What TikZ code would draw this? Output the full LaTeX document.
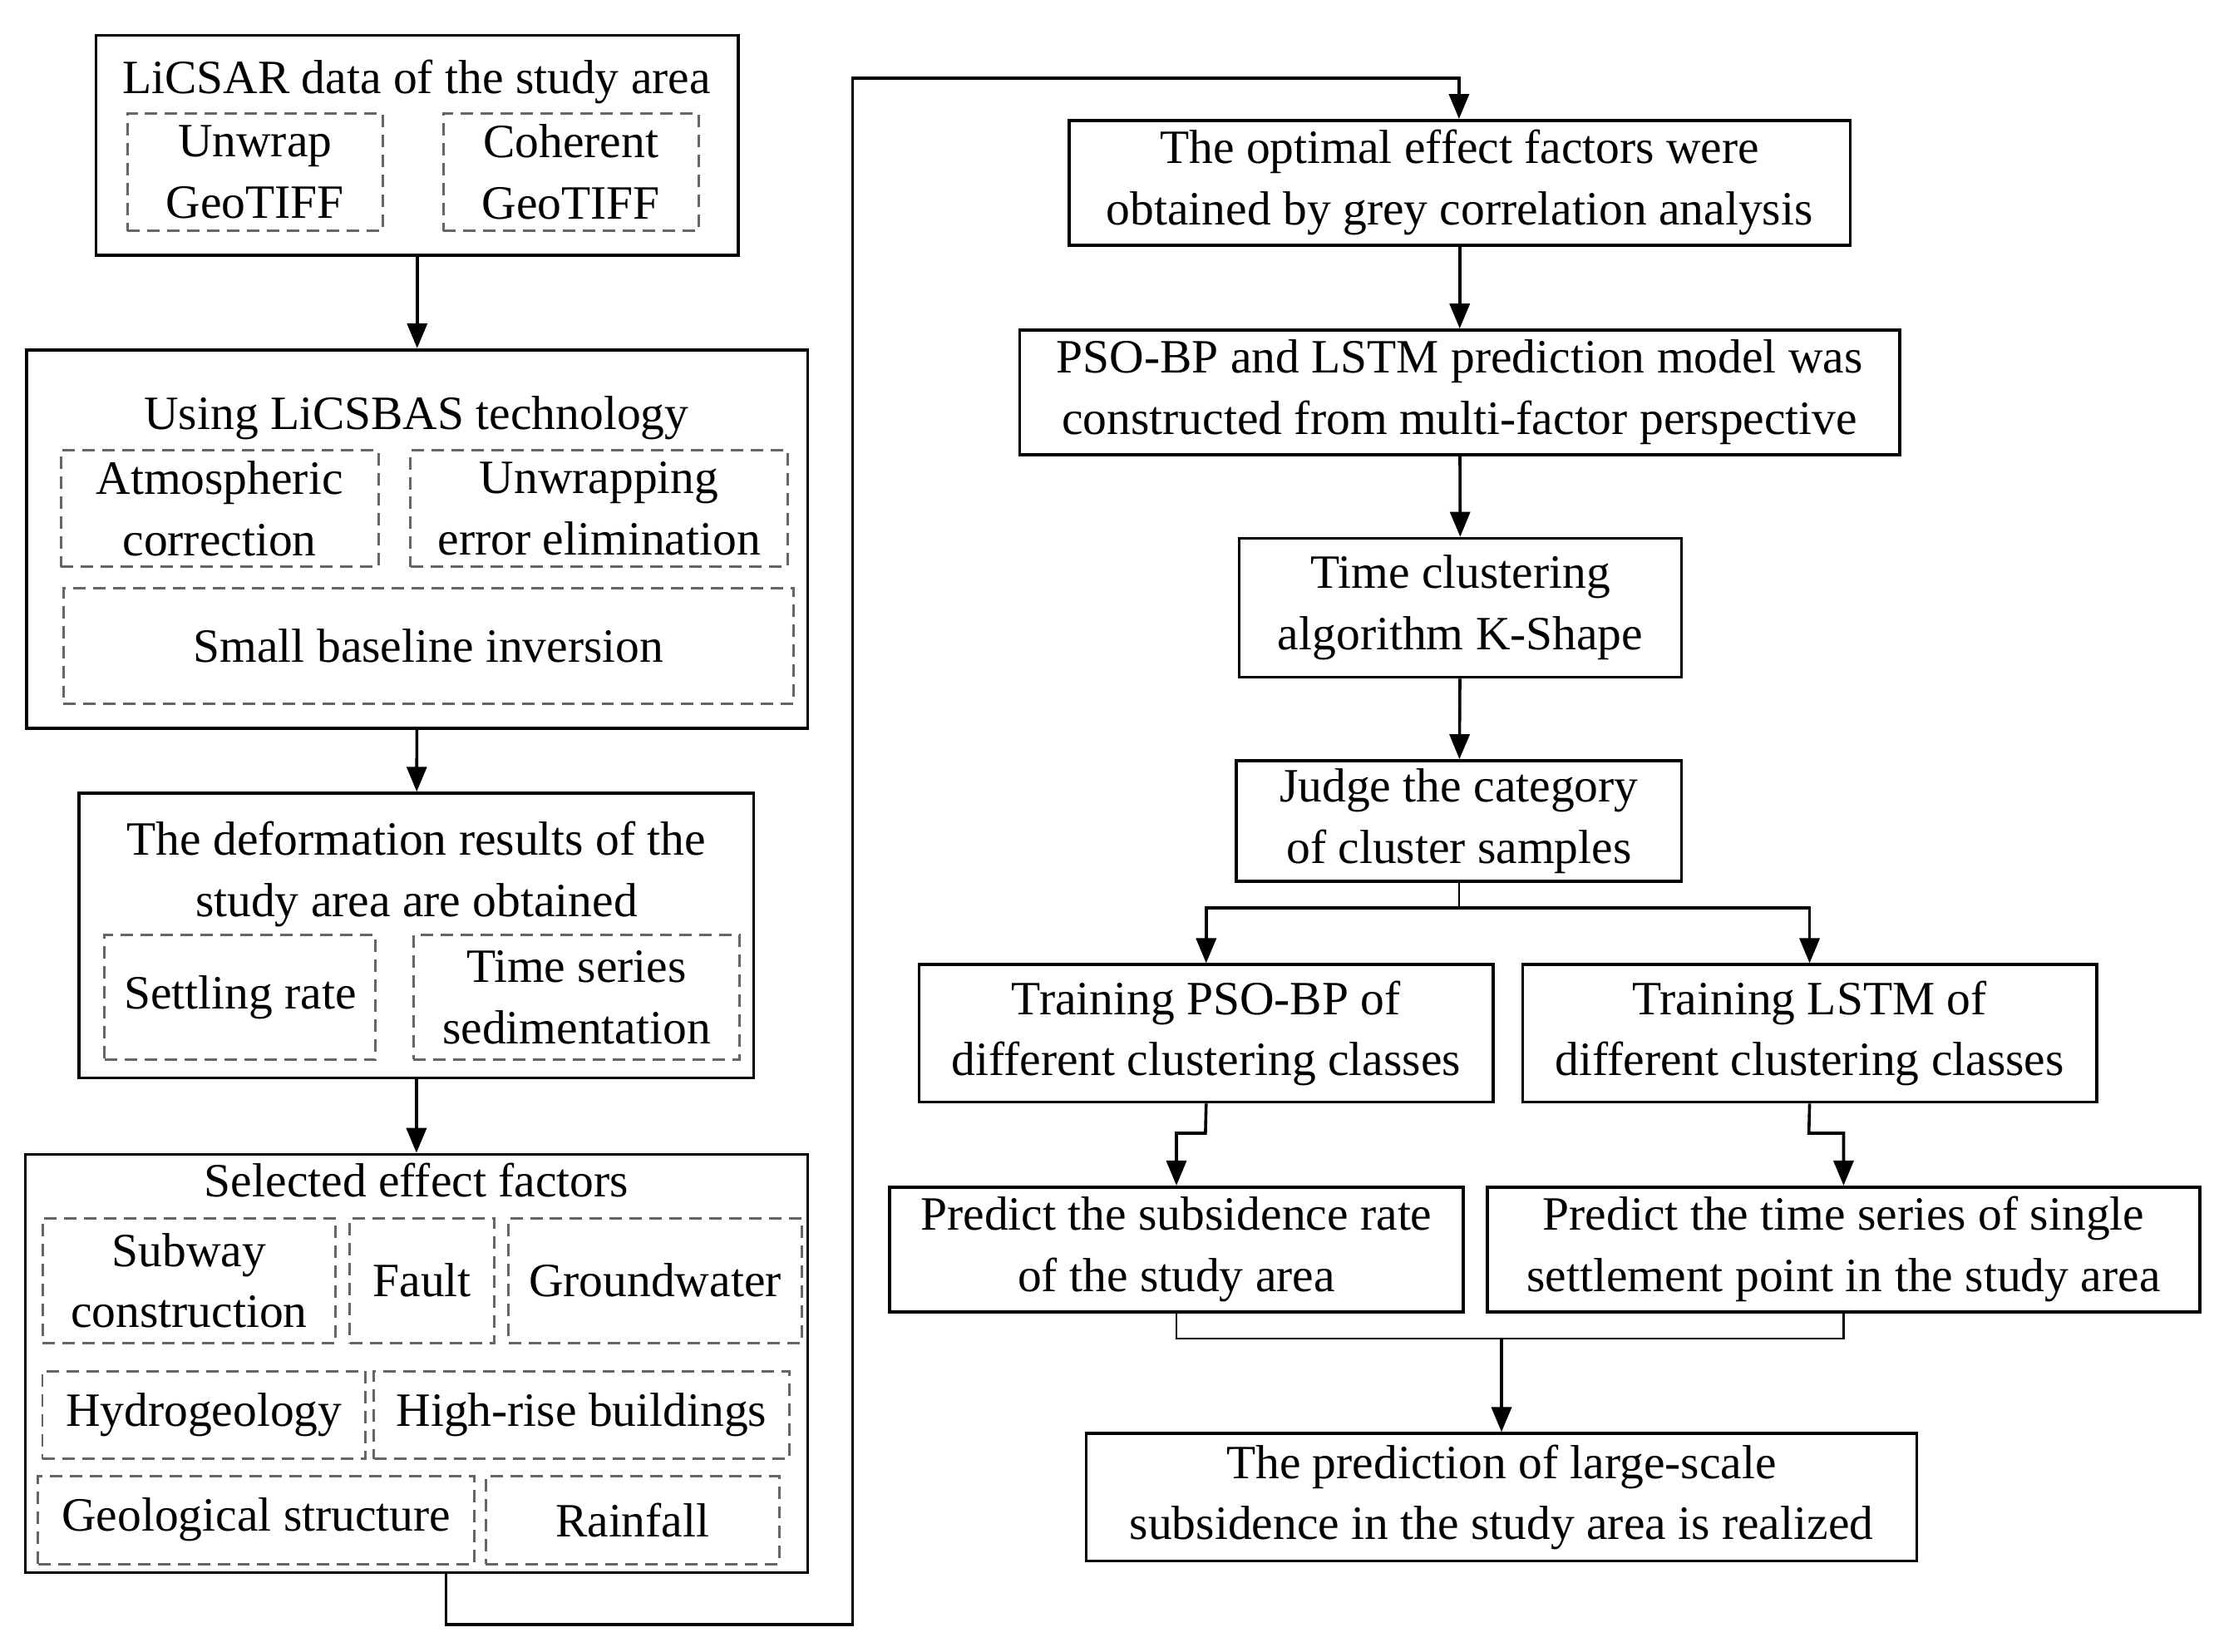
\documentclass[tikz,border=0pt]{standalone}
\usepackage{fontspec}
\setmainfont{Liberation Serif}
\usetikzlibrary{arrows.meta}
\begin{document}
\begin{tikzpicture}[x=0.01cm,y=-0.01cm,
  every node/.style={font=\fontsize{9.6}{12.3}\selectfont},
  bx/.style={draw,line width=0.6pt,inner sep=0pt,align=center},
  db/.style={draw,gray!80!black,dash pattern=on 2.5pt off 1.5pt,line width=0.5pt,inner sep=0pt,align=center,text=black},
  t/.style={inner sep=0pt,align=center},
  ar/.style={-{Triangle[length=5pt,width=4pt]},line width=0.6pt}]
\useasboundingbox (0,0) rectangle (1563,1166);
% left column
\node[bx,minimum width=4.53cm,minimum height=1.55cm] (A) at (294.5,102.5) {};
\node[t] (At) at (294,58) {LiCSAR data of the study area};
\node[db,minimum width=1.80cm,minimum height=0.83cm] (A1) at (180,121.5) {Unwrap\\GeoTIFF};
\node[db,minimum width=1.80cm,minimum height=0.83cm] (A2) at (403,121.5) {Coherent\\GeoTIFF};

\node[bx,minimum width=5.51cm,minimum height=2.67cm] (B) at (294.5,380.5) {};
\node[t] (Bt) at (294,295) {Using LiCSBAS technology};
\node[db,minimum width=2.24cm,minimum height=0.82cm] (B1) at (155,359) {Atmospheric\\correction};
\node[db,minimum width=2.66cm,minimum height=0.82cm] (B2) at (423,359) {Unwrapping\\error elimination};
\node[db,minimum width=5.15cm,minimum height=0.82cm] (B3) at (302.5,456) {Small baseline inversion};

\node[bx,minimum width=4.76cm,minimum height=2.01cm] (C) at (294,660.5) {};
\node[t] (Ct) at (294,617) {The deformation results of the\\study area are obtained};
\node[db,minimum width=1.91cm,minimum height=0.88cm] (C1) at (169.5,704) {Settling rate};
\node[db,minimum width=2.30cm,minimum height=0.88cm] (C2) at (407,704) {Time series\\sedimentation};

\node[bx,minimum width=5.52cm,minimum height=2.95cm] (D) at (294,962.5) {};
\node[t] (Dt) at (294,833) {Selected effect factors};
\node[db,minimum width=2.07cm,minimum height=0.88cm] (D1) at (133.5,904) {Subway\\construction};
\node[db,minimum width=1.02cm,minimum height=0.88cm] (D2) at (298,904) {Fault};
\node[db,minimum width=2.07cm,minimum height=0.88cm] (D3) at (462.5,904) {Groundwater};
\node[db,minimum width=2.28cm,minimum height=0.62cm] (D4) at (144,999) {Hydrogeology};
\node[db,minimum width=2.93cm,minimum height=0.62cm] (D5) at (410.5,999) {High-rise buildings};
\node[db,minimum width=3.08cm,minimum height=0.62cm] (D6) at (181,1073) {Geological structure};
\node[db,minimum width=2.07cm,minimum height=0.62cm] (D7) at (446.5,1073) {Rainfall};
% right column
\node[bx,minimum width=5.51cm,minimum height=0.88cm] (E) at (1030.5,129) {The optimal effect factors were\\obtained by grey correlation analysis};
\node[bx,minimum width=6.21cm,minimum height=0.88cm] (F) at (1030.5,277) {PSO-BP and LSTM prediction model was\\constructed from multi-factor perspective};
\node[bx,minimum width=3.12cm,minimum height=0.98cm] (G) at (1031,429) {Time clustering\\algorithm K-Shape};
\node[bx,minimum width=3.14cm,minimum height=0.85cm] (H) at (1030,579.5) {Judge the category\\of cluster samples};
\node[bx,minimum width=4.05cm,minimum height=0.97cm] (I) at (851.5,729.5) {Training PSO-BP of\\different clustering classes};
\node[bx,minimum width=4.05cm,minimum height=0.97cm] (J) at (1277.5,729.5) {Training LSTM of\\different clustering classes};
\node[bx,minimum width=4.05cm,minimum height=0.88cm] (K) at (830.5,882) {Predict the subsidence rate\\of the study area};
\node[bx,minimum width=5.03cm,minimum height=0.88cm] (L) at (1301.5,882) {Predict the time series of single\\settlement point in the study area};
\node[bx,minimum width=5.86cm,minimum height=0.90cm] (M) at (1060,1057) {The prediction of large-scale\\subsidence in the study area is realized};
% connectors
\draw[ar] (A) -- (B);
\draw[ar] (B) -- (C);
\draw[ar] (C) -- (D);
\coordinate (p1) at (315,1147);
\coordinate (p2) at (602,1147);
\coordinate (p3) at (602,55);
\coordinate (p4) at (1030,55);
\draw[ar] (D.south -| p1) -- (p1) -- (p2) -- (p3) -- (p4) -- (E.north -| p4);
\draw[ar] (E) -- (F);
\draw[ar] (F) -- (G);
\draw[ar] (G) -- (H);
\coordinate (h1) at (1030,641);
\draw (H.south) -- (h1);
\draw[ar] (I.north |- h1) -- (h1) -- (J.north |- h1) -- (J.north);
\draw[ar] (h1) -- (I.north |- h1) -- (I.north);
\coordinate (i1) at (851,800);
\coordinate (j1) at (1277,800);
\draw[ar] (I.south) -- (i1) -- (i1 -| K.north) -- (K.north);
\draw[ar] (J.south) -- (j1) -- (j1 -| L.north) -- (L.north);
\coordinate (m1) at (1060,945);
\draw (K.south) -- (K.south |- m1) -- (L.south |- m1) -- (L.south);
\draw[ar] (m1) -- (M.north);
\end{tikzpicture}
\end{document}
